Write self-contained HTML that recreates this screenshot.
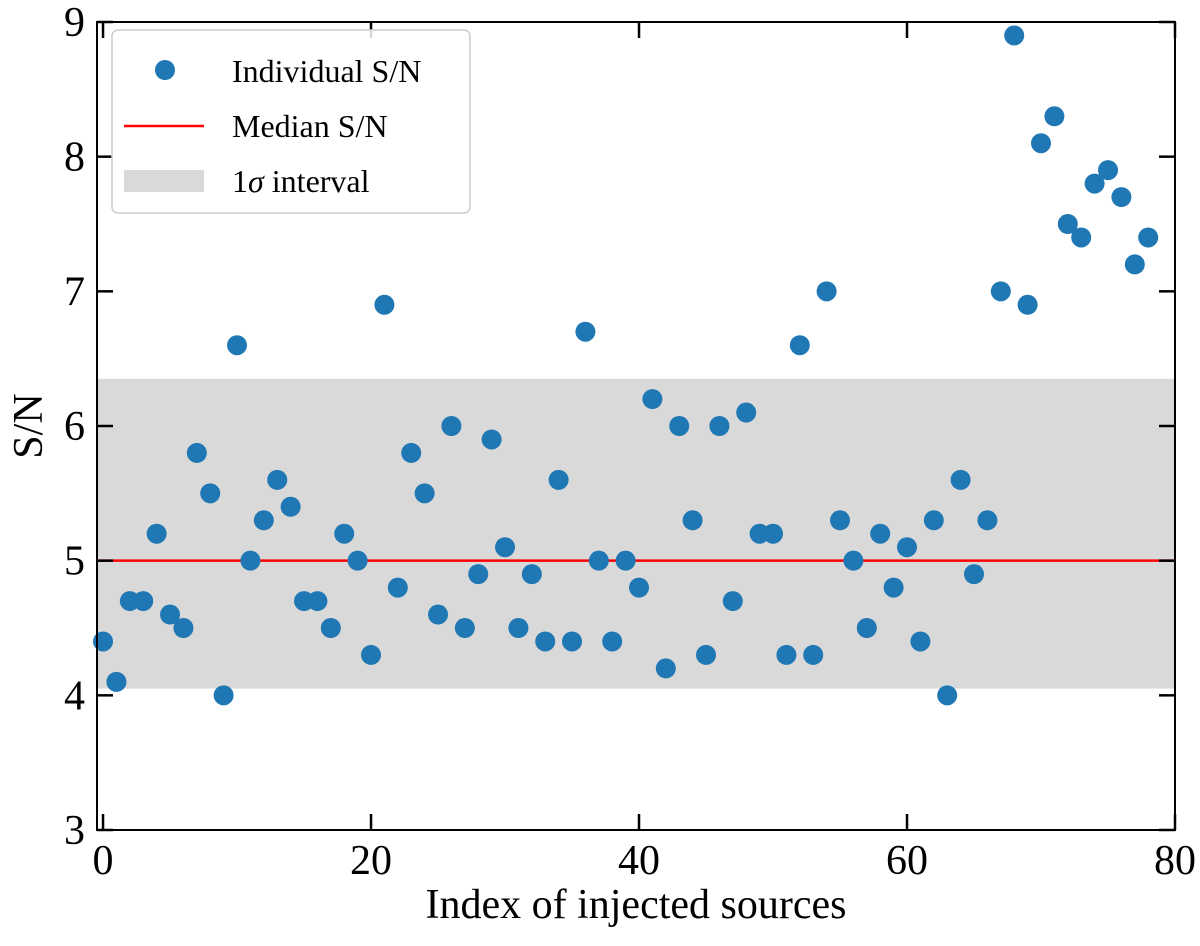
<!DOCTYPE html>
<html><head><meta charset="utf-8"><style>
body{margin:0;background:#fff}
text{font-family:"Liberation Serif",serif;fill:#000}
</style></head><body>
<svg id="chart" width="1200" height="941" viewBox="0 0 1200 941" xmlns="http://www.w3.org/2000/svg">
<g id="band"></g>
<g id="median"></g>
<g id="points"></g>
<g id="axes"></g>
<text x="42" y="426" font-size="42" text-anchor="middle" transform="rotate(-90 42 426)">S/N</text>
<text x="636" y="918" font-size="42" text-anchor="middle">Index of injected sources</text>
<g>
<rect x="112" y="30" width="358" height="183" rx="6" fill="#fff" fill-opacity="0.85" stroke="#ccc" stroke-width="1.5"/>
<circle cx="165" cy="70" r="10" fill="#1f77b4"/>
<text x="232" y="82" font-size="32">Individual S/N</text>
<line x1="124" y1="126" x2="204" y2="126" stroke="#ff0000" stroke-width="2.5"/>
<text x="232" y="137" font-size="32">Median S/N</text>
<rect x="124" y="170" width="80" height="22" fill="#d9d9d9"/>
<text x="232" y="192" font-size="32">1<tspan font-style="italic">σ</tspan> interval</text>
</g>
</svg>
<script>
const values=[4.4,4.1,4.7,4.7,5.2,4.6,4.5,5.8,5.5,4.0,6.6,5.0,5.3,5.6,5.4,4.7,4.7,4.5,5.2,5.0,4.3,6.9,4.8,5.8,5.5,4.6,6.0,4.5,4.9,5.9,5.1,4.5,4.9,4.4,5.6,4.4,6.7,5.0,4.4,5.0,4.8,6.2,4.2,6.0,5.3,4.3,6.0,4.7,6.1,5.2,5.2,4.3,6.6,4.3,7.0,5.3,5.0,4.5,5.2,4.8,5.1,4.4,5.3,4.0,5.6,4.9,5.3,7.0,8.9,6.9,8.1,8.3,7.5,7.4,7.8,7.9,7.7,7.2,7.4];
const medianVal=[5.0];
const bandRange=[4.05,6.35];
const xTicks=[0,20,40,60,80];
const yTicks=[3,4,5,6,7,8,9];
const L=97,R=1175,T=22,B=830,xmin=-0.45,xmax=80,ymin=3,ymax=9;
const X=v=>L+(v-xmin)/(xmax-xmin)*(R-L);
const Y=v=>B-(v-ymin)/(ymax-ymin)*(B-T);
const NS='http://www.w3.org/2000/svg';
function mk(tag,attrs,parent){const e=document.createElementNS(NS,tag);for(const k in attrs)e.setAttribute(k,attrs[k]);parent.appendChild(e);return e;}
const band=document.getElementById('band');
const br=mk('rect',{x:L,y:Y(bandRange[1]),width:R-L,height:Y(bandRange[0])-Y(bandRange[1]),fill:'#d9d9d9'},band);


const med=document.getElementById('median');
const ml=mk('line',{x1:L,x2:R,y1:Y(medianVal[0]),y2:Y(medianVal[0]),stroke:'#ff0000','stroke-width':2.5},med);


const pts=document.getElementById('points');
values.forEach((v,i)=>{const c=mk('circle',{cx:X(i),cy:Y(v),r:10,fill:'#1f77b4'},pts);

});
const ax=document.getElementById('axes');
mk('rect',{x:L,y:T,width:R-L,height:B-T,fill:'none',stroke:'#000','stroke-width':2},ax);
xTicks.forEach(t=>{const x=X(t);
mk('line',{x1:x,x2:x,y1:B,y2:B-16,stroke:'#000','stroke-width':2.5},ax);
mk('line',{x1:x,x2:x,y1:T,y2:T+16,stroke:'#000','stroke-width':2.5},ax);
const tx=mk('text',{x:x,y:B+44,'font-size':42,'text-anchor':'middle'},ax);tx.textContent=t;

});
yTicks.forEach(t=>{const y=Y(t);
mk('line',{x1:L,x2:L+16,y1:y,y2:y,stroke:'#000','stroke-width':2.5},ax);
mk('line',{x1:R,x2:R-16,y1:y,y2:y,stroke:'#000','stroke-width':2.5},ax);
const tx=mk('text',{x:L-12,y:y+14,'font-size':42,'text-anchor':'end'},ax);tx.textContent=t;

});
</script>
</body></html>
